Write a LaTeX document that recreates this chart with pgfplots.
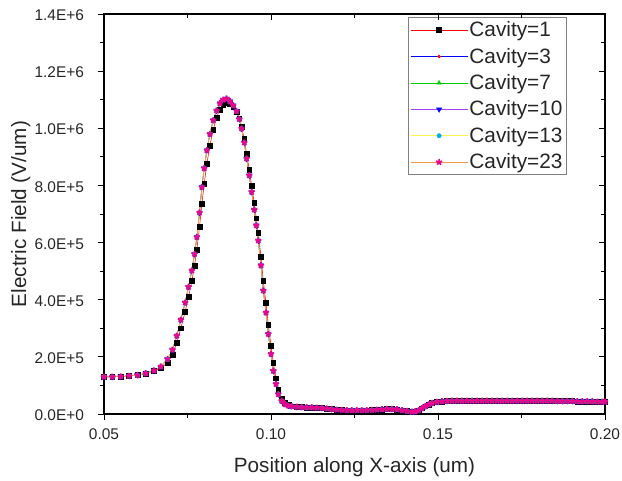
\documentclass[border=0pt]{standalone}
\usepackage{fontspec}
\setmainfont{Liberation Sans}
\usepackage{pgfplots}
\usepackage{pgfplotstable}
\pgfplotsset{compat=1.18}
\pgfplotstableread{
x y
0.0500 1.30e5
0.0525 1.30e5
0.0550 1.31e5
0.0575 1.33e5
0.0600 1.36e5
0.0625 1.42e5
0.0650 1.50e5
0.0670 1.60e5
0.0690 1.80e5
0.0705 2.08e5
0.0718 2.50e5
0.0730 3.00e5
0.0743 3.58e5
0.0753 4.10e5
0.0763 4.65e5
0.0771 5.20e5
0.0778 5.75e5
0.0786 6.55e5
0.0793 7.35e5
0.0800 8.05e5
0.0808 8.75e5
0.0817 9.40e5
0.0827 9.95e5
0.0837 1.037e6
0.0847 1.066e6
0.0857 1.083e6
0.0867 1.090e6
0.0877 1.086e6
0.0887 1.075e6
0.0897 1.058e6
0.0905 1.035e6
0.0912 1.006e6
0.0920 9.62e5
0.0927 9.10e5
0.0935 8.55e5
0.0942 7.98e5
0.0950 7.38e5
0.0956 6.85e5
0.0962 6.33e5
0.0970 5.50e5
0.0977 4.65e5
0.0985 3.88e5
0.0992 3.12e5
0.1000 2.40e5
0.1007 1.78e5
0.1015 1.25e5
0.1022 8.5e4
0.1032 5.4e4
0.1042 3.8e4
0.1052 3.1e4
0.1062 2.7e4
0.1077 2.5e4
0.1092 2.4e4
0.1107 2.3e4
0.1122 2.3e4
0.1137 2.2e4
0.1152 2.1e4
0.1167 1.9e4
0.1182 1.7e4
0.1197 1.5e4
0.1212 1.4e4
0.1227 1.3e4
0.1242 1.3e4
0.1257 1.3e4
0.1272 1.3e4
0.1287 1.3e4
0.1302 1.4e4
0.1317 1.5e4
0.1332 1.6e4
0.1347 1.7e4
0.1362 1.7e4
0.1377 1.6e4
0.1392 1.3e4
0.1407 1.0e4
0.1422 8.0e3
0.1432 9.0e3
0.1442 1.3e4
0.1452 2.0e4
0.1462 2.7e4
0.1472 3.3e4
0.1482 3.8e4
0.1497 4.2e4
0.1512 4.4e4
0.1527 4.5e4
0.1542 4.6e4
0.1557 4.6e4
0.1572 4.6e4
0.1587 4.6e4
0.1602 4.6e4
0.1617 4.6e4
0.1632 4.6e4
0.1647 4.6e4
0.1662 4.6e4
0.1677 4.6e4
0.1692 4.6e4
0.1707 4.6e4
0.1722 4.6e4
0.1737 4.6e4
0.1752 4.6e4
0.1767 4.6e4
0.1782 4.6e4
0.1797 4.6e4
0.1812 4.6e4
0.1827 4.6e4
0.1842 4.6e4
0.1857 4.5e4
0.1872 4.5e4
0.1887 4.5e4
0.1902 4.5e4
0.1917 4.4e4
0.1932 4.4e4
0.1947 4.4e4
0.1962 4.4e4
0.1977 4.3e4
0.1992 4.3e4
0.2000 4.3e4
}\cavA
\pgfplotstableread{
x y
0.0500 1.30e5
0.0525 1.30e5
0.0550 1.31e5
0.0575 1.33e5
0.0600 1.36e5
0.0625 1.42e5
0.0650 1.52e5
0.0670 1.66e5
0.0690 1.92e5
0.0705 2.25e5
0.0718 2.74e5
0.0730 3.30e5
0.0743 3.90e5
0.0753 4.45e5
0.0763 5.02e5
0.0771 5.60e5
0.0778 6.19e5
0.0786 7.05e5
0.0793 7.94e5
0.0800 8.60e5
0.0808 9.23e5
0.0817 9.80e5
0.0827 1.028e6
0.0837 1.062e6
0.0847 1.087e6
0.0857 1.100e6
0.0867 1.104e6
0.0877 1.094e6
0.0887 1.080e6
0.0897 1.060e6
0.0905 1.032e6
0.0912 9.99e5
0.0920 9.50e5
0.0927 8.94e5
0.0935 8.35e5
0.0942 7.77e5
0.0950 7.15e5
0.0956 6.60e5
0.0962 6.07e5
0.0970 5.20e5
0.0977 4.32e5
0.0985 3.55e5
0.0992 2.80e5
0.1000 2.10e5
0.1007 1.51e5
0.1015 1.05e5
0.1022 6.9e4
0.1032 4.6e4
0.1042 3.4e4
0.1052 2.9e4
0.1062 2.7e4
0.1077 2.5e4
0.1092 2.4e4
0.1107 2.3e4
0.1122 2.3e4
0.1137 2.2e4
0.1152 2.1e4
0.1167 1.9e4
0.1182 1.7e4
0.1197 1.5e4
0.1212 1.4e4
0.1227 1.3e4
0.1242 1.3e4
0.1257 1.3e4
0.1272 1.3e4
0.1287 1.3e4
0.1302 1.4e4
0.1317 1.5e4
0.1332 1.6e4
0.1347 1.7e4
0.1362 1.7e4
0.1377 1.6e4
0.1392 1.3e4
0.1407 1.0e4
0.1422 8.0e3
0.1432 9.0e3
0.1442 1.3e4
0.1452 2.0e4
0.1462 2.7e4
0.1472 3.3e4
0.1482 3.8e4
0.1497 4.2e4
0.1512 4.4e4
0.1527 4.5e4
0.1542 4.6e4
0.1557 4.6e4
0.1572 4.6e4
0.1587 4.6e4
0.1602 4.6e4
0.1617 4.6e4
0.1632 4.6e4
0.1647 4.6e4
0.1662 4.6e4
0.1677 4.6e4
0.1692 4.6e4
0.1707 4.6e4
0.1722 4.6e4
0.1737 4.6e4
0.1752 4.6e4
0.1767 4.6e4
0.1782 4.6e4
0.1797 4.6e4
0.1812 4.6e4
0.1827 4.6e4
0.1842 4.6e4
0.1857 4.5e4
0.1872 4.5e4
0.1887 4.5e4
0.1902 4.5e4
0.1917 4.4e4
0.1932 4.4e4
0.1947 4.4e4
0.1962 4.4e4
0.1977 4.3e4
0.1992 4.3e4
0.2000 4.3e4
}\cavB
\definecolor{cvio}{rgb}{0.65,0.25,0.95}
\definecolor{cyel}{rgb}{1.0,0.95,0.3}
\definecolor{cora}{rgb}{0.95,0.6,0.3}
\begin{document}
\begin{tikzpicture}
\path[use as bounding box] (-78pt,-50pt) rectangle (388.5pt,310.5pt);
\begin{axis}[
  at={(0,0)}, anchor=south west,
  scale only axis, width=375.75pt, height=300pt,
  xmin=0.05, xmax=0.20, ymin=0, ymax=1.4e6,
  xtick={0.05,0.10,0.15,0.20}, xticklabels={0.05,0.10,0.15,0.20},
  ytick={0,2e5,4e5,6e5,8e5,1e6,1.2e6,1.4e6},
  yticklabels={0.0E+0,2.0E+5,4.0E+5,6.0E+5,8.0E+5,1.0E+6,1.2E+6,1.4E+6},
  scaled ticks=false,
  minor x tick num=1, minor y tick num=1,
  tick align=outside, xtick pos=left, ytick pos=left,
  major tick length=4.5pt, minor tick length=3pt,
  tick style={black, line width=0.7pt},
  axis line style={black, line width=0.8pt},
  ticklabel style={font=\fontsize{11.6}{14}\selectfont, text=black!85},
  xticklabel style={yshift=-3pt},
  yticklabel style={xshift=-7pt, yshift=-1pt},
  /pgf/number format/assume math mode=true,
  xlabel={Position along X-axis (um)},
  ylabel={Electric Field (V/um)},
  label style={font=\fontsize{15.5}{18}\selectfont, text=black!85},
  xlabel style={at={(axis description cs:0.5,0)}, anchor=north, yshift=-29pt},
  ylabel style={at={(axis description cs:-0.166,0.5)}, anchor=center},
  legend cell align=left,
  legend style={at={(rel axis cs:0.924,0.992)}, anchor=north east,
    draw=gray, line width=0.6pt, font=\fontsize{15.6}{18}\selectfont,
    text=black!85, row sep=4.6pt, inner sep=1.8pt,
    nodes={inner sep=1.2pt}},
  legend image code/.code={\draw[mark repeat=2,mark phase=2,#1] plot coordinates {(0cm,0cm) (0.75cm,0cm) (1.5cm,0cm)};},
]
\addplot[red, line width=0.4pt, mark=square*, mark size=1.8pt, mark options={black, fill=black}] table {\cavA};
\addlegendentry{Cavity=1}
\addplot[blue, line width=0.4pt, mark=*, mark size=1.1pt, mark options={red, fill=red}] table {\cavB};
\addlegendentry{Cavity=3}
\addplot[green!80!black, line width=0.4pt, mark=triangle*, mark size=1.8pt, mark options={green!80!black, fill=green!80!black}] table {\cavB};
\addlegendentry{Cavity=7}
\addplot[cvio, line width=0.4pt, mark=triangle*, mark size=2.2pt, mark options={blue, fill=blue, rotate=180}] table {\cavB};
\addlegendentry{Cavity=10}
\addplot[cyel, line width=0.4pt, mark=*, mark size=1.6pt, mark options={cyan, fill=cyan}] table {\cavB};
\addlegendentry{Cavity=13}
\addplot[cora, line width=0.4pt, mark=star, mark size=2.4pt, mark options={magenta, line width=1.3pt}] table {\cavB};
\addlegendentry{Cavity=23}
\end{axis}
\begin{axis}[
  at={(0,0)}, anchor=south west,
  scale only axis, width=375.75pt, height=300pt,
  xmin=0.05, xmax=0.20, ymin=0, ymax=1.4e6,
  xtick={0.05,0.10,0.15,0.20}, xticklabels={},
  ytick={0,2e5,4e5,6e5,8e5,1e6,1.2e6,1.4e6}, yticklabels={},
  scaled ticks=false,
  minor x tick num=1, minor y tick num=1,
  tick align=inside, xtick pos=right, ytick pos=right,
  major tick length=4.5pt, minor tick length=3pt,
  tick style={black, line width=0.7pt},
  axis line style={draw=none},
]
\end{axis}
\end{tikzpicture}
\end{document}
